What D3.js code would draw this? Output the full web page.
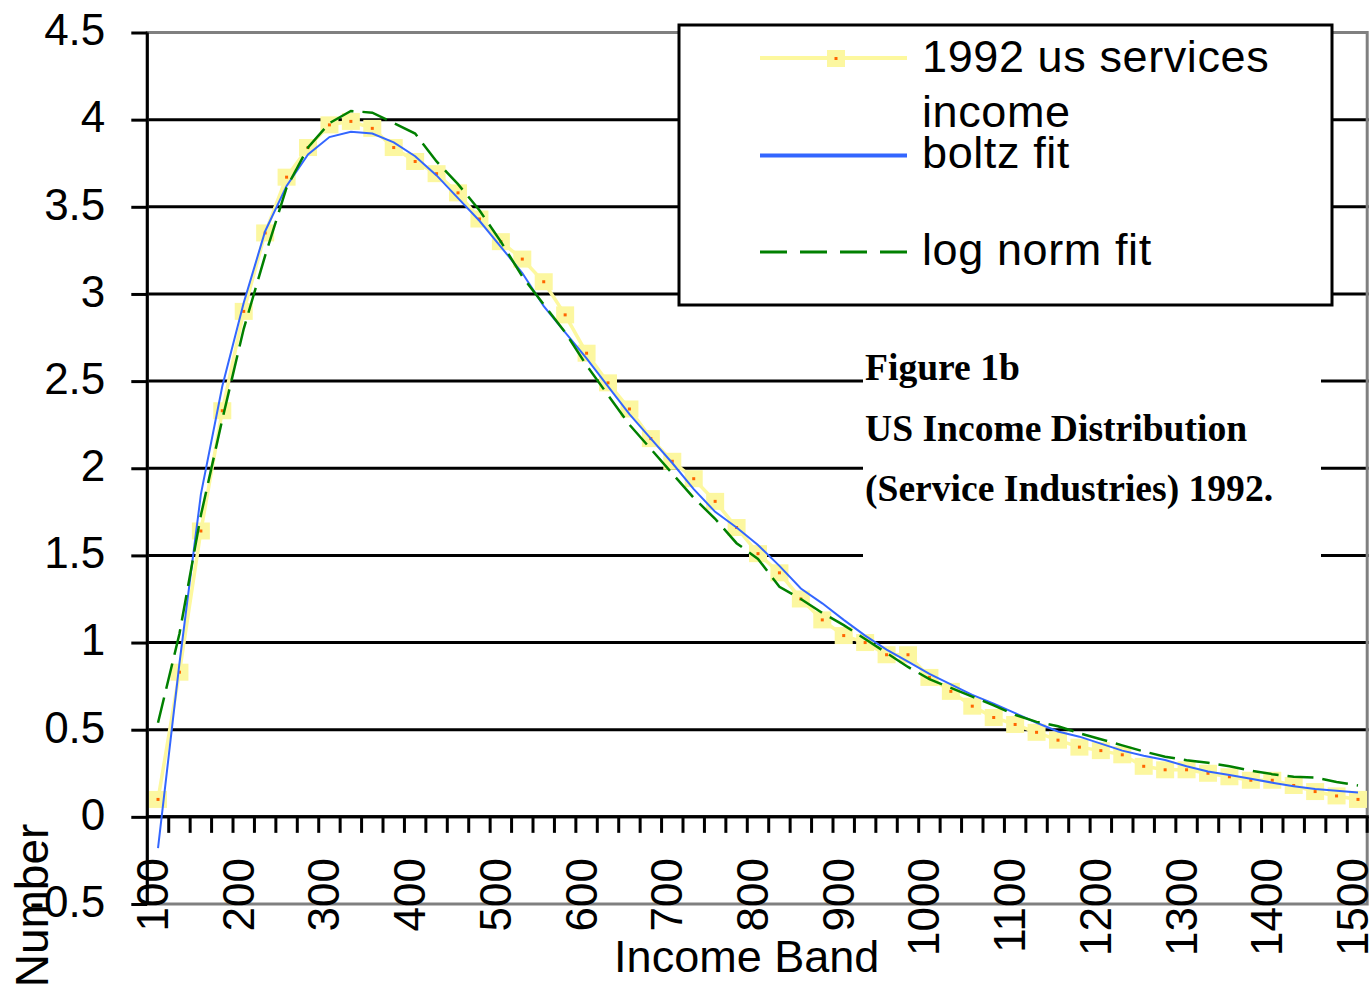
<!DOCTYPE html>
<html>
<head>
<meta charset="utf-8">
<script src="https://cdn.jsdelivr.net/npm/d3@7"></script>
<style>
  body { margin: 0; background: #fff; }
  text { font-family: "Liberation Sans", Arial, sans-serif; fill: #000; }
  .caption { font-family: "Liberation Serif", "Times New Roman", serif; font-weight: bold; font-size: 37.6px; }
</style>
</head>
<body>
<div id="graph"></div>
<script>
// income bands (categories)
var incomes = [100,125,150,175,200,225,250,275,300,325,350,375,400,425,450,475,500,525,550,575,
               600,625,650,675,700,725,750,775,800,825,850,875,900,925,950,975,1000,1025,1050,1075,
               1100,1125,1150,1175,1200,1225,1250,1275,1300,1325,1350,1375,1400,1425,1450,1475,1500];
var xTickLabels = [100,200,300,400,500,600,700,800,900,1000,1100,1200,1300,1400,1500];
var yTicks = [-0.5,0,0.5,1,1.5,2,2.5,3,3.5,4,4.5];

// 1992 us services income
var observed = [0.10,0.83,1.64,2.33,2.90,3.35,3.67,3.84,3.97,3.99,3.95,3.84,3.76,3.69,3.58,3.43,3.30,3.20,3.07,2.88,
                2.66,2.49,2.34,2.17,2.04,1.94,1.81,1.66,1.51,1.40,1.25,1.13,1.04,1.00,0.93,0.93,0.80,0.72,0.635,0.57,
                0.53,0.485,0.44,0.40,0.38,0.356,0.29,0.27,0.27,0.25,0.23,0.21,0.21,0.18,0.145,0.12,0.10];
// boltz fit
var boltz = [-0.18,0.88,1.85,2.47,2.95,3.36,3.62,3.80,3.90,3.93,3.92,3.87,3.79,3.68,3.55,3.42,3.27,3.12,2.93,2.78,
             2.63,2.47,2.31,2.17,2.03,1.88,1.75,1.66,1.56,1.44,1.31,1.225,1.13,1.04,0.96,0.89,0.82,0.76,0.70,0.65,
             0.595,0.54,0.49,0.46,0.42,0.38,0.35,0.326,0.29,0.26,0.24,0.218,0.196,0.176,0.16,0.15,0.14];
// log norm fit
var lognorm = [0.54,1.05,1.73,2.28,2.80,3.22,3.61,3.84,3.98,4.05,4.04,3.98,3.92,3.76,3.63,3.48,3.30,3.10,2.94,2.78,
               2.59,2.42,2.25,2.11,1.97,1.83,1.71,1.57,1.48,1.32,1.25,1.17,1.10,1.02,0.94,0.86,0.79,0.74,0.69,0.64,
               0.585,0.545,0.52,0.48,0.445,0.41,0.375,0.345,0.325,0.31,0.29,0.265,0.245,0.23,0.225,0.20,0.18];

var plot = { left: 147.3, right: 1368.7, top: 32.5, bottom: 904 };

var svg = d3.select("#graph").append("svg")
  .attr("width", 1372)
  .attr("height", 996);

var x = d3.scaleBand().domain(incomes).range([plot.left, plot.right]);
var y = d3.scaleLinear().domain([-0.5, 4.5]).range([plot.bottom, plot.top]);
var bw = x.bandwidth();
var cx = d => x(d) + bw / 2;

// gridlines
svg.append("g").selectAll("line")
  .data(yTicks.filter(v => v > -0.5 && v < 4.5))
  .enter().append("line")
    .attr("x1", plot.left).attr("x2", plot.right)
    .attr("y1", d => y(d)).attr("y2", d => y(d))
    .attr("stroke", "#000").attr("stroke-width", 3);

// plot border (gray)
svg.append("rect")
  .attr("x", plot.left).attr("y", plot.top)
  .attr("width", plot.right - plot.left - 1.5).attr("height", plot.bottom - plot.top)
  .attr("fill", "none").attr("stroke", "#808080").attr("stroke-width", 3);

// y axis
var yAxisG = svg.append("g")
  .attr("transform", `translate(${plot.left}, 0)`)
  .call(d3.axisLeft(y).tickValues(yTicks).tickSize(16).tickPadding(26)
        .tickFormat(d => d < 0 ? "-" + Math.abs(d) : String(d)));
yAxisG.select(".domain").attr("stroke", "#000").attr("stroke-width", 3)
  .attr("d", `M0,${plot.top}V${plot.bottom}`);
yAxisG.selectAll(".tick line").attr("stroke-width", 3);
yAxisG.selectAll("text")
  .attr("dy", "0.28em")
  .style("font-size", "44px")
  .style("font-family", "'Liberation Sans', Arial, sans-serif");

// x axis along y = 0
var x0 = y(0);
svg.append("line")
  .attr("x1", plot.left).attr("x2", plot.right)
  .attr("y1", x0).attr("y2", x0)
  .attr("stroke", "#000").attr("stroke-width", 3);
svg.append("g").selectAll("line")
  .data(incomes.slice(1).map(d => x(d)).concat([plot.right - 1.5]))
  .enter().append("line")
    .attr("x1", d => d).attr("x2", d => d)
    .attr("y1", x0).attr("y2", x0 + 16)
    .attr("stroke", "#000").attr("stroke-width", 3);
svg.append("g").selectAll("text")
  .data(xTickLabels)
  .enter().append("text")
    .attr("transform", d => `translate(${cx(d) + 10}, 858) rotate(-90)`)
    .attr("text-anchor", "end")
    .style("font-size", "44px")
    .text(d => d);

// axis titles
svg.append("text")
  .attr("transform", "translate(48, 905.5) rotate(-90)")
  .attr("text-anchor", "middle")
  .style("font-size", "46px")
  .text("Number");
svg.append("text")
  .attr("x", 746.7).attr("y", 971.7)
  .attr("text-anchor", "middle")
  .style("font-size", "45px")
  .text("Income Band");

// series
var line = d3.line().x((d, i) => cx(incomes[i])).y(d => y(d));

svg.append("path")
  .attr("d", line(observed))
  .attr("fill", "none").attr("stroke", "#fdf89e").attr("stroke-width", 3.5);

var markers = svg.append("g").selectAll("g")
  .data(observed)
  .enter().append("g")
    .attr("transform", (d, i) => `translate(${cx(incomes[i])}, ${y(d)})`);
markers.append("rect")
  .attr("x", -9).attr("y", -8.5).attr("width", 18).attr("height", 17)
  .attr("fill", "#fcf7a0");
markers.append("rect")
  .attr("x", -1.5).attr("y", -1.5).attr("width", 3).attr("height", 3)
  .attr("fill", "#ff6600");

svg.append("path")
  .attr("d", line(boltz))
  .attr("fill", "none").attr("stroke", "#3366ff").attr("stroke-width", 2);

svg.append("path")
  .attr("d", line(lognorm))
  .attr("fill", "none").attr("stroke", "#008000").attr("stroke-width", 2.5)
  .attr("stroke-dasharray", "26,9");

// legend
var legend = svg.append("g");
legend.append("rect")
  .attr("x", 679).attr("y", 25).attr("width", 653).attr("height", 280)
  .attr("fill", "#fff").attr("stroke", "#000").attr("stroke-width", 3);

legend.append("line")
  .attr("x1", 760).attr("x2", 907).attr("y1", 58).attr("y2", 58)
  .attr("stroke", "#fdf89e").attr("stroke-width", 4);
legend.append("rect")
  .attr("x", 827).attr("y", 50).attr("width", 18).attr("height", 17).attr("fill", "#fcf7a0");
legend.append("rect")
  .attr("x", 834.5).attr("y", 57).attr("width", 3).attr("height", 3).attr("fill", "#ff6600");
legend.append("line")
  .attr("x1", 760).attr("x2", 907).attr("y1", 155.5).attr("y2", 155.5)
  .attr("stroke", "#3366ff").attr("stroke-width", 4);
legend.append("line")
  .attr("x1", 760).attr("x2", 907).attr("y1", 252).attr("y2", 252)
  .attr("stroke", "#008000").attr("stroke-width", 3)
  .attr("stroke-dasharray", "27,13");

var legendText = [["1992 us services", 71.7], ["income", 126.7], ["boltz fit", 168.3], ["log norm fit", 265]];
legend.selectAll("text.lbl")
  .data(legendText)
  .enter().append("text")
    .attr("class", "lbl")
    .attr("x", 922).attr("y", d => d[1])
    .style("font-size", "45px")
    .style("letter-spacing", "0.6px")
    .text(d => d[0]);

// figure caption box
svg.append("rect")
  .attr("x", 863).attr("y", 335).attr("width", 458).attr("height", 240)
  .attr("fill", "#fff");
var captionLines = [["Figure 1b", 380], ["US Income Distribution", 441], ["(Service Industries) 1992.", 501]];
svg.selectAll("text.caption")
  .data(captionLines)
  .enter().append("text")
    .attr("class", "caption")
    .attr("x", 865).attr("y", d => d[1])
    .text(d => d[0]);
</script>
</body>
</html>
